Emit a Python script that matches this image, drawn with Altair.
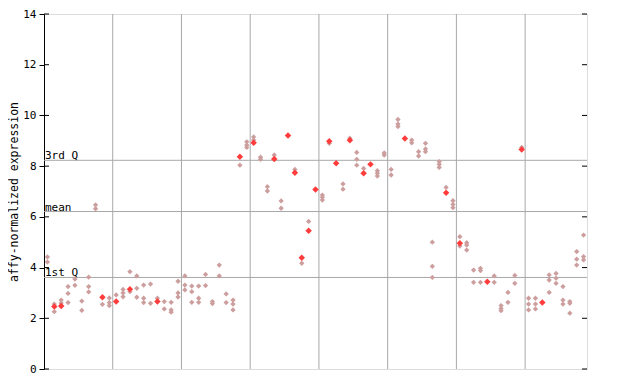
import altair as alt
import pandas as pd

# per-column replicate values (column index 0..78)
light_values = [
    [4.42, 4.22], [2.56, 2.26], [2.72, 2.6], [3.25, 2.98, 2.62], [3.55, 3.3],
    [2.68, 2.31], [3.62, 3.25, 3.04], [6.47, 6.32], [2.55], [2.8, 2.62, 2.5],
    [2.92], [3.14, 3.0, 2.85], [3.84, 3.05], [3.67, 3.18, 2.83], [3.31, 2.79, 2.62],
    [3.35, 2.59], [2.79], [2.66, 2.37], [2.63, 2.33, 2.24], [3.46, 3.0, 2.84],
    [3.67, 3.31, 3.12], [3.27, 3.05, 2.63], [3.27, 2.79, 2.63], [3.73, 3.29], [2.66, 2.58],
    [4.1, 3.67], [2.96, 2.62], [2.72, 2.56, 2.33], [8.04], [8.96, 8.83, 8.74],
    [9.15, 9.03], [8.35, 8.27], [7.19, 7.02], [8.44], [6.63, 6.34],
    [], [7.87], [4.17], [5.82], [],
    [6.86, 6.77, 6.66], [8.9], [], [7.3, 7.09], [9.1],
    [8.54, 8.27, 8.04], [7.91], [], [7.82, 7.72, 7.61], [8.52, 8.44],
    [7.87, 7.65], [9.84, 9.66, 9.56], [], [9.03, 8.92], [8.57, 8.4],
    [8.9, 8.68, 8.57], [5.0, 4.05, 3.61], [8.18, 8.07, 7.95], [7.16], [6.64, 6.49, 6.36],
    [5.22, 4.85], [4.98, 4.89, 4.69], [3.9, 3.42], [3.97, 3.88, 3.42], [],
    [3.67, 3.42], [2.5, 2.39, 2.3], [3.02, 2.63], [3.69, 3.38], [8.74],
    [2.79, 2.56, 2.33], [2.79, 2.56, 2.37], [], [3.71, 3.51, 3.02], [3.77, 3.58, 3.38],
    [3.25, 2.72, 2.56], [2.66, 2.59, 2.2], [4.63, 4.33, 4.1], [5.28, 4.43, 4.3],
]
solid_values = {
    1: [2.46], 2: [2.48], 8: [2.83], 10: [2.66], 12: [3.15], 16: [2.66],
    28: [8.37], 30: [8.92], 33: [8.28], 35: [9.21], 36: [7.74], 37: [4.39],
    38: [5.45], 39: [7.08], 41: [8.98], 42: [8.11], 44: [9.02], 46: [7.72],
    47: [8.07], 52: [9.09], 58: [6.95], 60: [4.96], 64: [3.44], 69: [8.66],
    72: [2.62],
}
group_bounds = [10, 20, 30, 40, 50, 60, 70]
quartile_names = ["3rd Q", "mean", "1st Q"]
quartile_values = [8.23, 6.21, 3.61]
y_ticks = [0, 2, 4, 6, 8, 10, 12, 14]

rows = []
for i, vals in enumerate(light_values):
    for v in vals:
        rows.append({"pos": i + 0.5, "value": v, "kind": "light"})
for i, vals in solid_values.items():
    for v in vals:
        rows.append({"pos": i + 0.5, "value": v, "kind": "solid"})
points = pd.DataFrame(rows)
bounds = pd.DataFrame({"pos": group_bounds})
quart = pd.DataFrame({"name": quartile_names, "value": quartile_values})
ticks = pd.DataFrame({"value": y_ticks})

FONT = "DejaVu Sans Mono"
xs = alt.Scale(domain=[0, 79], nice=False, zero=False)
ys = alt.Scale(domain=[0, 14], nice=False)

vgrid = alt.Chart(bounds).mark_rule(color="#a8a8a8", strokeWidth=1).encode(
    x=alt.X("pos:Q", scale=xs, axis=None)
)
hgrid = alt.Chart(quart).mark_rule(color="#a8a8a8", strokeWidth=1).encode(
    y=alt.Y("value:Q", scale=ys)
)
qlabels = alt.Chart(quart).mark_text(
    align="left", baseline="bottom", font=FONT, fontSize=11, color="black", dx=1, dy=1
).encode(x=alt.value(0), y=alt.Y("value:Q", scale=ys), text="name:N")

pts = alt.Chart(points).mark_point(shape="diamond", filled=True, opacity=1).encode(
    x=alt.X("pos:Q", scale=xs, axis=None),
    y=alt.Y(
        "value:Q",
        scale=ys,
        axis=alt.Axis(
            values=y_ticks, title="affy-normalized expression", grid=False,
            tickSize=5, tickColor="black", domainColor="black", labelPadding=3,
            labelFont=FONT, labelFontSize=11, labelColor="black",
            titleFont=FONT, titleFontSize=11.5, titleFontWeight="normal",
            titleColor="black", titlePadding=3,
        ),
    ),
    color=alt.Color(
        "kind:N",
        scale=alt.Scale(domain=["light", "solid"], range=["#cc9e9e", "#ff3c3c"]),
        legend=None,
    ),
    size=alt.Size(
        "kind:N",
        scale=alt.Scale(domain=["light", "solid"], range=[28, 42]),
        legend=None,
    ),
    order=alt.Order("kind:N"),
)

left_ticks = alt.Chart(ticks).mark_rule(color="black").encode(
    x=alt.value(0), x2=alt.value(5), y=alt.Y("value:Q", scale=ys)
)
right_ticks = alt.Chart(ticks).mark_rule(color="black").encode(
    x=alt.value(538), x2=alt.value(543), y=alt.Y("value:Q", scale=ys)
)

chart = alt.layer(vgrid, hgrid, pts, qlabels, left_ticks, right_ticks).properties(
    width=543,
    height=355,
    padding={"left": 36, "top": 6, "right": 10, "bottom": 5},
    autosize=alt.AutoSizeParams(type="none"),
).configure_view(stroke="black", strokeWidth=1).configure(background="white")

chart.save("out.html", embed_options={"renderer": "svg", "actions": False})
